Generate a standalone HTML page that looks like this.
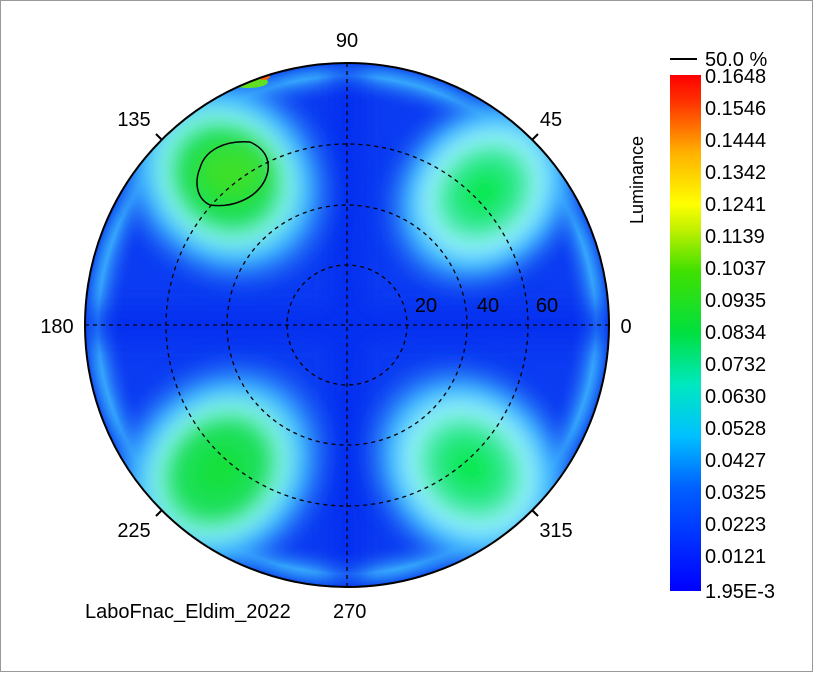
<!DOCTYPE html>
<html><head><style>
body{margin:0;background:#fff;}
svg{display:block;font-family:"Liberation Sans",sans-serif;}
</style></head><body>
<svg width="817" height="674" viewBox="0 0 817 674">
<defs>
<linearGradient id="cb" x1="0" y1="1" x2="0" y2="0">
<stop offset="0" stop-color="#0000ff"/>
<stop offset="0.2" stop-color="#0060ff"/>
<stop offset="0.3" stop-color="#00c0ff"/>
<stop offset="0.4" stop-color="#00e8c0"/>
<stop offset="0.5" stop-color="#00e040"/>
<stop offset="0.62" stop-color="#40e000"/>
<stop offset="0.7" stop-color="#c0f000"/>
<stop offset="0.75" stop-color="#ffff00"/>
<stop offset="0.85" stop-color="#ffb000"/>
<stop offset="0.95" stop-color="#ff3000"/>
<stop offset="1" stop-color="#ff0000"/>
</linearGradient>
<radialGradient id="ring" cx="0.5" cy="0.5" r="0.5">
<stop offset="0.85" stop-color="#1040f0" stop-opacity="0"/>
<stop offset="0.95" stop-color="#40c0ff" stop-opacity="0.8"/>
<stop offset="1" stop-color="#1050f0"/>
</radialGradient>
<radialGradient id="blob" cx="0.5" cy="0.5" r="0.5">
<stop offset="0" stop-color="#10e030"/>
<stop offset="0.35" stop-color="#20e060"/>
<stop offset="0.52" stop-color="#80f0e8"/>
<stop offset="0.68" stop-color="#40b8ff"/>
<stop offset="1" stop-color="#1048f2" stop-opacity="0"/>
</radialGradient>
<radialGradient id="blob2" cx="0.5" cy="0.5" r="0.5">
<stop offset="0" stop-color="#00e840"/>
<stop offset="0.3" stop-color="#30e890"/>
<stop offset="0.5" stop-color="#90f0f8"/>
<stop offset="0.68" stop-color="#40b8ff"/>
<stop offset="1" stop-color="#1048f2" stop-opacity="0"/>
</radialGradient>
<filter id="bl" x="-50%" y="-50%" width="200%" height="200%"><feGaussianBlur stdDeviation="12"/></filter>
<filter id="bs" x="-50%" y="-50%" width="200%" height="200%"><feGaussianBlur stdDeviation="7"/></filter>
<clipPath id="cp"><circle cx="347" cy="325" r="262"/></clipPath>
</defs>
<rect x="0.5" y="0.5" width="812" height="671" fill="#fff" stroke="#999"/>
<g clip-path="url(#cp)">
<circle cx="347" cy="325" r="262" fill="#0c3cf2"/>
<circle cx="347" cy="325" r="262" fill="url(#ring)"/>
<path d="M80 308H620V342H80ZM330 60H364V600H330Z" fill="#0428ee" opacity="0.6" filter="url(#bl)"/>
<g filter="url(#bs)">
<ellipse cx="226" cy="178" rx="128" ry="112" fill="url(#blob)" transform="rotate(45 226 178)"/>
<ellipse cx="484" cy="192" rx="120" ry="100" fill="url(#blob2)" transform="rotate(-45 484 192)"/>
<ellipse cx="220" cy="470" rx="132" ry="112" fill="url(#blob)" transform="rotate(-45 220 470)"/>
<ellipse cx="470" cy="468" rx="126" ry="108" fill="url(#blob2)" transform="rotate(45 470 468)"/>
</g>
<ellipse cx="232" cy="172" rx="36" ry="28" fill="#50e020" filter="url(#bl)" opacity="0.7"/>
<ellipse cx="248" cy="82" rx="20" ry="6" fill="#60e020"/>
<ellipse cx="264" cy="76" rx="6" ry="4" fill="#ff6000"/>
</g>
<path d="M200 168 C205 150 225 140 250 142 C268 150 272 165 265 180 C255 200 230 208 210 205 C195 198 195 180 200 168Z" fill="none" stroke="#000" stroke-width="1.5"/>
<circle cx="347" cy="325" r="262" fill="none" stroke="#000" stroke-width="2"/>
<g fill="none" stroke="#000" stroke-width="1.3" stroke-dasharray="4,4">
<circle cx="347" cy="325" r="60"/><circle cx="347" cy="325" r="120"/><circle cx="347" cy="325" r="181"/>
<line x1="85" y1="325" x2="609" y2="325"/><line x1="347" y1="63" x2="347" y2="587"/>
</g>
<g stroke="#000" stroke-width="2">
<line x1="532" y1="140" x2="538" y2="134"/><line x1="162" y1="140" x2="156" y2="134"/>
<line x1="162" y1="510" x2="156" y2="516"/><line x1="532" y1="510" x2="538" y2="516"/>
</g>
<g font-size="20" fill="#000">
<text x="347" y="47" text-anchor="middle">90</text>
<text x="134" y="126" text-anchor="middle">135</text>
<text x="551" y="126" text-anchor="middle">45</text>
<text x="57" y="333" text-anchor="middle">180</text>
<text x="626" y="333" text-anchor="middle">0</text>
<text x="134" y="537" text-anchor="middle">225</text>
<text x="556" y="537" text-anchor="middle">315</text>
<text x="426" y="312" text-anchor="middle">20</text>
<text x="488" y="312" text-anchor="middle">40</text>
<text x="547" y="312" text-anchor="middle">60</text>
<text x="85" y="618">LaboFnac_Eldim_2022</text>
<text x="333" y="618">270</text>
</g>
<rect x="670" y="75" width="31" height="516" fill="url(#cb)"/>
<line x1="670" y1="59" x2="697" y2="59" stroke="#000" stroke-width="2"/>
<text x="643" y="180" font-size="18" text-anchor="middle" transform="rotate(-90 643 180)">Luminance</text>
<g font-size="20" fill="#000">
<text x="705" y="66">50.0 %</text>
<text x="705" y="83">0.1648</text>
<text x="705" y="115">0.1546</text>
<text x="705" y="147">0.1444</text>
<text x="705" y="179">0.1342</text>
<text x="705" y="211">0.1241</text>
<text x="705" y="243">0.1139</text>
<text x="705" y="275">0.1037</text>
<text x="705" y="307">0.0935</text>
<text x="705" y="339">0.0834</text>
<text x="705" y="371">0.0732</text>
<text x="705" y="403">0.0630</text>
<text x="705" y="435">0.0528</text>
<text x="705" y="467">0.0427</text>
<text x="705" y="499">0.0325</text>
<text x="705" y="531">0.0223</text>
<text x="705" y="563">0.0121</text>
<text x="705" y="598">1.95E-3</text>
</g>
</svg>
</body></html>
